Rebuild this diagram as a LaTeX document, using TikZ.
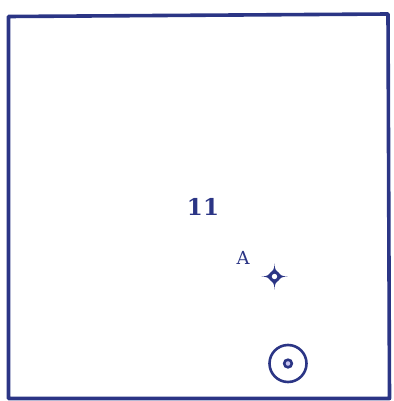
\documentclass[tikz,border=0pt]{standalone}
\usepackage{fontspec}
\setmainfont{DejaVu Serif}
\definecolor{ink}{HTML}{2B3585}
\definecolor{lav}{HTML}{C8C4F0}
\tikzset{
  frame/.style={draw=ink, line width=3.6pt, line join=round},
  lbl/.style={text=ink, inner sep=0pt},
}
\begin{document}
\begin{tikzpicture}[x=1pt,y=-1pt]
\useasboundingbox (0,0) rectangle (393,401);
\draw[frame] (8.5,16.5) -- (388,14) -- (389.5,398.5) -- (8.5,398.5) -- cycle;
\node[lbl, font=\fontsize{23}{25}\selectfont\bfseries] (eleven) at (203,207) {11};
\node[lbl, font=\fontsize{18}{20}\selectfont] (A) at (243,258) {A};
% crosshair mark
\coordinate (cross) at (274.5,276.5);
\fill[ink] (cross) ++(-13,0)
  .. controls ++(6,0) and ++(-1,2) .. ++(9,-4)
  .. controls ++(2,-1) and ++(0,6) .. ++(4,-9)
  .. controls ++(0,6) and ++(-2,-1) .. ++(4,9)
  .. controls ++(1,2) and ++(-6,0) .. ++(9,4)
  .. controls ++(-6,0) and ++(1,-2) .. ++(-9,4)
  .. controls ++(-2,1) and ++(0,-6) .. ++(-4,9)
  .. controls ++(0,-6) and ++(2,1) .. ++(-4,-9)
  .. controls ++(-1,-2) and ++(6,0) .. ++(-9,-4) -- cycle;
\fill[ink] (cross) circle (5.5);
\fill[white] (cross) circle (2.7);
% target mark
\coordinate (target) at (288,363.5);
\draw[ink, line width=2.6pt] (target) circle (18.5);
\draw[ink, line width=2.6pt, fill=lav] (target) circle (3.8);
\end{tikzpicture}
\end{document}
